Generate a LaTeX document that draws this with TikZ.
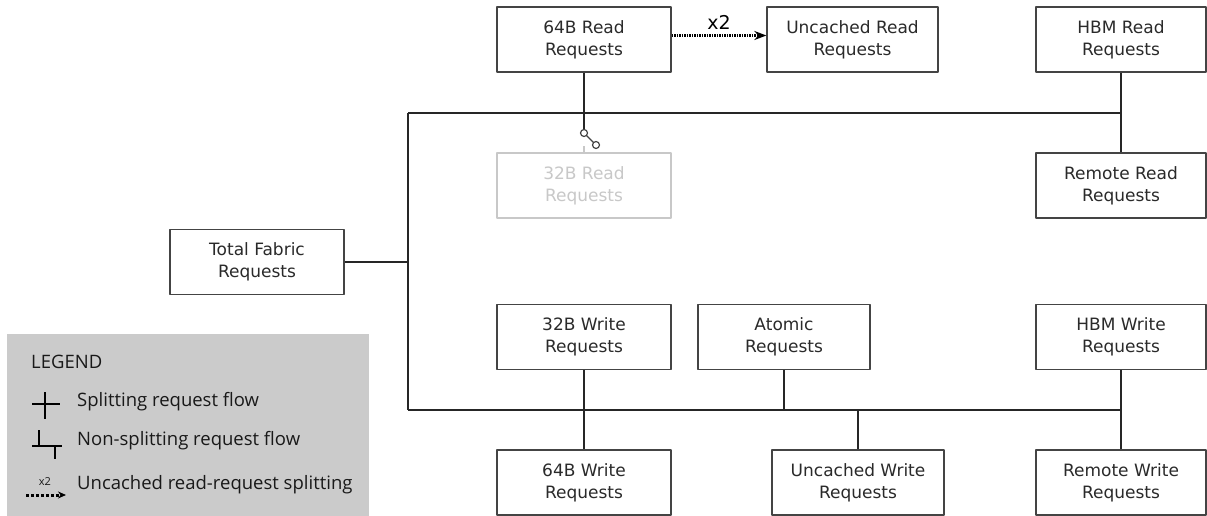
\documentclass[tikz,border=0pt]{standalone}
\usepackage{fontspec}
\setmainfont{DejaVu Sans}
\newfontfamily\legendfont{Open Sans}
\usetikzlibrary{arrows.meta,calc}
\definecolor{boxline}{HTML}{444444}
\definecolor{boxtext}{HTML}{2A2A2A}
\definecolor{ghost}{HTML}{C8C8C8}
\definecolor{legendbg}{HTML}{CBCBCB}
\tikzset{
  reqbox/.style={draw=boxline, line width=1.3pt, fill=white, text=boxtext,
    minimum width=174pt, minimum height=65pt, align=center, inner sep=0pt},
  ghostbox/.style={reqbox, draw=ghost, text=ghost},
  bus/.style={draw=black!85, line width=1.6pt},
  splitarrow/.style={dash pattern=on 1.5pt off 1pt, line width=2.5pt, -{Stealth[length=12pt,width=9pt]}},
}
\begin{document}
\begin{tikzpicture}[x=1pt, y=-1pt, line join=round, font=\fontsize{17}{22}\selectfont]
	\useasboundingbox (0,0) rectangle (1207,516);
	% read side
	\node[reqbox] (rd64) at (584,39.5) {64B Read\\Requests};
	\node[reqbox, minimum width=171pt] (rdunc) at (852.5,39.5) {Uncached Read\\Requests};
	\node[reqbox, minimum width=170pt] (rdhbm) at (1121,39.5) {HBM Read\\Requests};
	\node[ghostbox] (rd32) at (584,185.5) {32B Read\\Requests};
	\node[reqbox, minimum width=170pt] (rdrem) at (1121,185.5) {Remote Read\\Requests};
	\node[reqbox] (total) at (257,262) {Total Fabric\\Requests};
	% write side
	\node[reqbox] (wr32) at (584,337) {32B Write\\Requests};
	\node[reqbox, minimum width=172pt] (atomic) at (784,337) {Atomic\\Requests};
	\node[reqbox, minimum width=170pt] (wrhbm) at (1121,337) {HBM Write\\Requests};
	\node[reqbox] (wr64) at (584,482.5) {64B Write\\Requests};
	\node[reqbox, minimum width=172pt] (wrunc) at (858,482.5) {Uncached Write\\Requests};
	\node[reqbox, minimum width=170pt] (wrrem) at (1121,482.5) {Remote Write\\Requests};
	% buses
	\coordinate (tl) at (408,113);
	\coordinate (bl) at (408,410);
	\draw[bus] (total.east) -- (total.east -| tl);
	\draw[bus] (tl) -- (bl);
	\draw[bus] (tl) -- (tl -| rdhbm.south);
	\draw[bus] (bl) -- (bl -| wrhbm.south);
	\draw[bus] (rdhbm.south) -- (rdrem.north);
	\draw[bus] (wrhbm.south) -- (wrrem.north);
	\draw[bus] (wr32.south) -- (wr64.north);
	\draw[bus] (atomic.south) -- (atomic.south |- bl);
	\draw[bus] (wrunc.north) -- (wrunc.north |- bl);
	% open switch to the 32B reads
	\coordinate (swa) at (584,133);
	\coordinate (swb) at (596,145);
	\draw[bus] (rd64.south) -- ([yshift=3.5pt]swa);
	\draw[line width=1.3pt, draw=boxline] ($(swa)!3.5pt!(swb)$) -- ($(swb)!3.5pt!(swa)$);
	\draw[line width=1.2pt, draw=boxline, fill=white] (swa) circle (3.5pt) (swb) circle (3.5pt);
	\draw[line width=1.2pt, draw=ghost] (rd32.north) -- ++(0,-6);
	% uncached read splitting
	\draw[splitarrow] ([yshift=4pt]rd64.east) -- node[above=1pt, font=\fontsize{19}{22}\selectfont, text=black] {x2} ([yshift=4pt]rdunc.west);
	% legend
	\fill[legendbg] (7,334) rectangle (369,516);
	\begin{scope}[font=\legendfont\fontsize{18.5}{21}\selectfont, text=black!90]
		\node[anchor=west, inner sep=0pt] (lgtitle) at (31,362) {LEGEND};
		\draw[line width=2.6pt] (32,404)--(60,404) (45,392)--(45,419);
		\node[anchor=west, inner sep=0pt] (lgsplit) at (77,402) {Splitting request flow};
		\draw[line width=2.6pt] (32,446)--(62,446) (39,430)--(39,446) (55,446)--(55,459);
		\node[anchor=west, inner sep=0pt] (lgnosplit) at (77,441) {Non-splitting request flow};
		\draw[dash pattern=on 2.5pt off 2.5pt, line width=3pt, -{Stealth[length=8pt,width=7pt]}] (26,495)--(66,495);
		\node[font=\legendfont\fontsize{11}{12}\selectfont, inner sep=0pt] (lgx) at (45,482) {x2};
		\node[anchor=west, inner sep=0pt] (lguncached) at (77,485) {Uncached read-request splitting};
	\end{scope}
\end{tikzpicture}
\end{document}
